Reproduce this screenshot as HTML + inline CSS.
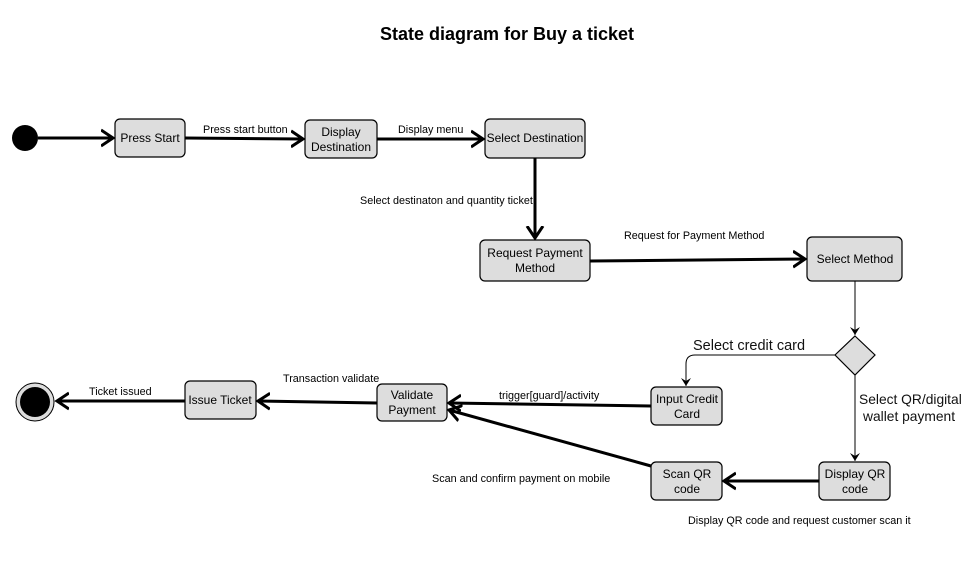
<!DOCTYPE html>
<html><head><meta charset="utf-8"><style>
body{margin:0;background:#fff;}
svg text{font-family:"Liberation Sans",Arial,sans-serif;}
</style></head><body>
<svg width="976" height="568" viewBox="0 0 976 568" xmlns="http://www.w3.org/2000/svg">
<defs>
<marker id="a" markerWidth="20" markerHeight="20" refX="12" refY="8" orient="auto" markerUnits="userSpaceOnUse" viewBox="0 0 20 16">
<path d="M0,0 L12,8 L0,16" fill="none" stroke="#000" stroke-width="3"/></marker>
<marker id="s" markerWidth="10" markerHeight="10" refX="8" refY="5" orient="auto" markerUnits="userSpaceOnUse">
<path d="M0,0 L8,5 L0,10 L3,5 Z" fill="#000"/></marker>
</defs>
<text x="507" y="40" text-anchor="middle" font-size="18" font-weight="bold">State diagram for Buy a ticket</text>
<g fill="#ddd" stroke="#000" stroke-width="1.2">
<rect x="115" y="119" width="70" height="38" rx="5"/>
<rect x="305" y="120" width="72" height="38" rx="5"/>
<rect x="485" y="119" width="100" height="39" rx="5"/>
<rect x="480" y="240" width="110" height="41" rx="5"/>
<rect x="807" y="237" width="95" height="44" rx="5"/>
<rect x="651" y="387" width="71" height="38" rx="5"/>
<rect x="651" y="462" width="71" height="38" rx="5"/>
<rect x="819" y="462" width="71" height="38" rx="5"/>
<rect x="377" y="384" width="70" height="37" rx="5"/>
<rect x="185" y="381" width="71" height="38" rx="5"/>
<polygon points="855,336 875,355 855,375 835,355"/>
</g>
<circle cx="25" cy="138" r="13" fill="#000"/>
<circle cx="35" cy="402" r="19" fill="#ddd" stroke="#000" stroke-width="1"/>
<circle cx="35" cy="402" r="15" fill="#000"/>
<g stroke="#000" stroke-width="3" fill="none" marker-end="url(#a)">
<line x1="38" y1="138" x2="113" y2="138"/>
<line x1="185" y1="138" x2="303" y2="139"/>
<line x1="377" y1="139" x2="483" y2="139"/>
<line x1="535" y1="158" x2="535" y2="238"/>
<line x1="590" y1="261" x2="805" y2="259"/>
<line x1="651" y1="406" x2="449" y2="403"/>
<line x1="651" y1="466" x2="449" y2="410"/>
<line x1="819" y1="481" x2="724" y2="481"/>
<line x1="377" y1="403" x2="258" y2="401"/>
<line x1="185" y1="401" x2="57" y2="401"/>
</g>
<g stroke="#000" stroke-width="1" fill="none" marker-end="url(#s)">
<line x1="855" y1="281" x2="855" y2="335"/>
<path d="M835,355 L695,355 Q686,355 686,364 L686,386"/>
<line x1="855" y1="375" x2="855" y2="461"/>
</g>
<g font-size="12" text-anchor="middle">
<text x="150" y="142">Press Start</text>
<text x="341" y="136">Display</text><text x="341" y="151">Destination</text>
<text x="535" y="142">Select Destination</text>
<text x="535" y="257">Request Payment</text><text x="535" y="272">Method</text>
<text x="855" y="263">Select Method</text>
<text x="687" y="403">Input Credit</text><text x="687" y="418">Card</text>
<text x="687" y="478">Scan QR</text><text x="687" y="493">code</text>
<text x="855" y="478">Display QR</text><text x="855" y="493">code</text>
<text x="412" y="399">Validate</text><text x="412" y="414">Payment</text>
<text x="220" y="404">Issue Ticket</text>
</g>
<g font-size="10.8">
<text x="203" y="133">Press start button</text>
<text x="398" y="133">Display menu</text>
<text x="360" y="204">Select destinaton and quantity ticket</text>
<text x="624" y="239">Request for Payment Method</text>
<text x="499" y="399">trigger[guard]/activity</text>
<text x="283" y="382">Transaction validate</text>
<text x="89" y="395">Ticket issued</text>
<text x="432" y="482">Scan and confirm payment on mobile</text>
<text x="688" y="524">Display QR code and request customer scan it</text>
</g>
<g style="font-family:'DejaVu Sans','Liberation Sans',sans-serif" fill="#111">
<text x="693" y="350" font-size="14.5">Select credit card</text>
<text x="859" y="404" font-size="13.8">Select QR/digital</text>
<text x="863" y="421" font-size="13.8">wallet payment</text>
</g>
</svg>
</body></html>
